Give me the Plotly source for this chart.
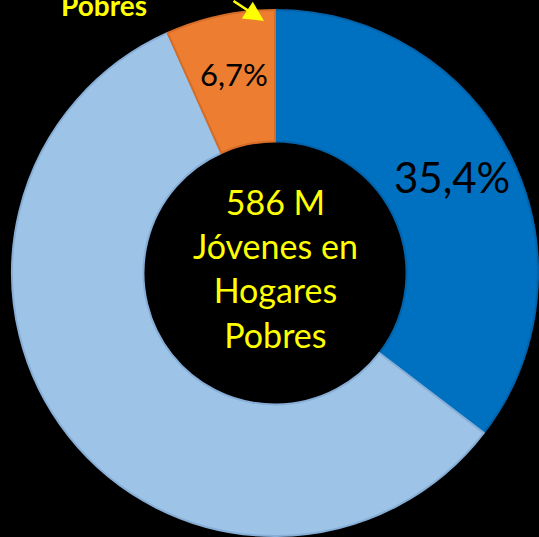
import math
import plotly.graph_objects as go

# Data
categories = ["Jóvenes en hogares pobres A", "Resto", "Pobres"]
values = [35.4, 57.9, 6.7]
show_label = [True, False, True]
slice_colors = ["#0070C0", "#9DC3E6", "#ED7D31"]
border_colors = ["#0063AA", "#86AED6", "#D56C27"]
label_sizes = [42, 30, 31]
center_lines = ["586 M", "Jóvenes en", "Hogares", "Pobres"]
top_label = "Pobres"

W, H = 539, 537
HOLE = 0.50
dom_x = [12 / W, 538 / W]
dom_y = [1 / H, 527 / H]
texts = [(f"{v:.1f}".replace(".", ",") + "%") if s else "" for v, s in zip(values, show_label)]

fig = go.Figure()
fig.add_trace(go.Pie(
    labels=categories,
    values=values,
    textinfo="none",
    hole=HOLE,
    sort=False,
    direction="clockwise",
    rotation=0,
    marker=dict(colors=slice_colors, line=dict(color=border_colors, width=2)),
    domain=dict(x=dom_x, y=dom_y),
    showlegend=False,
    hoverinfo="label+percent",
))

# slice labels at the middle of each ring segment (derived from the values)
cx = (dom_x[0] + dom_x[1]) / 2
cy = (dom_y[0] + dom_y[1]) / 2
R = min((dom_x[1] - dom_x[0]) * W, (dom_y[1] - dom_y[0]) * H) / 2
rmid = R * (1 + HOLE) / 2
total = sum(values)
cum = 0.0
for v, t, fs in zip(values, texts, label_sizes):
    ang = 2 * math.pi * (cum + v / 2) / total
    cum += v
    if not t:
        continue
    fig.add_annotation(
        x=cx + rmid * math.sin(ang) / W, y=cy + rmid * math.cos(ang) / H,
        xref="paper", yref="paper", text=t, showarrow=False,
        font=dict(family="Lato", size=fs, color="#000000"),
        xanchor="center", yanchor="middle", yshift=0.2 * fs,
    )

fig.add_annotation(
    x=cx, y=1 - 268 / H, xref="paper", yref="paper",
    text="<br>".join(center_lines), showarrow=False,
    font=dict(family="Lato", size=34, color="#FFFF00"),
    align="center", xanchor="center", yanchor="middle",
)

fig.add_annotation(
    x=104 / W, y=1 - 5 / H, xref="paper", yref="paper",
    text=f"<b>{top_label}</b>", showarrow=False,
    font=dict(family="Lato", size=28, color="#FFFF00"),
    xanchor="center", yanchor="middle",
)

fig.add_annotation(
    x=264 / W, y=1 - 21 / H, xref="paper", yref="paper",
    text="", showarrow=True, ax=-32, ay=-26,
    arrowhead=2, arrowsize=1.6, arrowwidth=2.5, arrowcolor="#FFFF00",
)

fig.update_layout(
    width=W, height=H,
    margin=dict(l=0, r=0, t=0, b=0),
    paper_bgcolor="#000000", plot_bgcolor="#000000",
)

fig.write_html(
    "out.html",
    config={"displayModeBar": False},
    post_script="document.body.style.margin='0';document.body.style.background='#000';document.body.style.overflow='hidden';",
)
